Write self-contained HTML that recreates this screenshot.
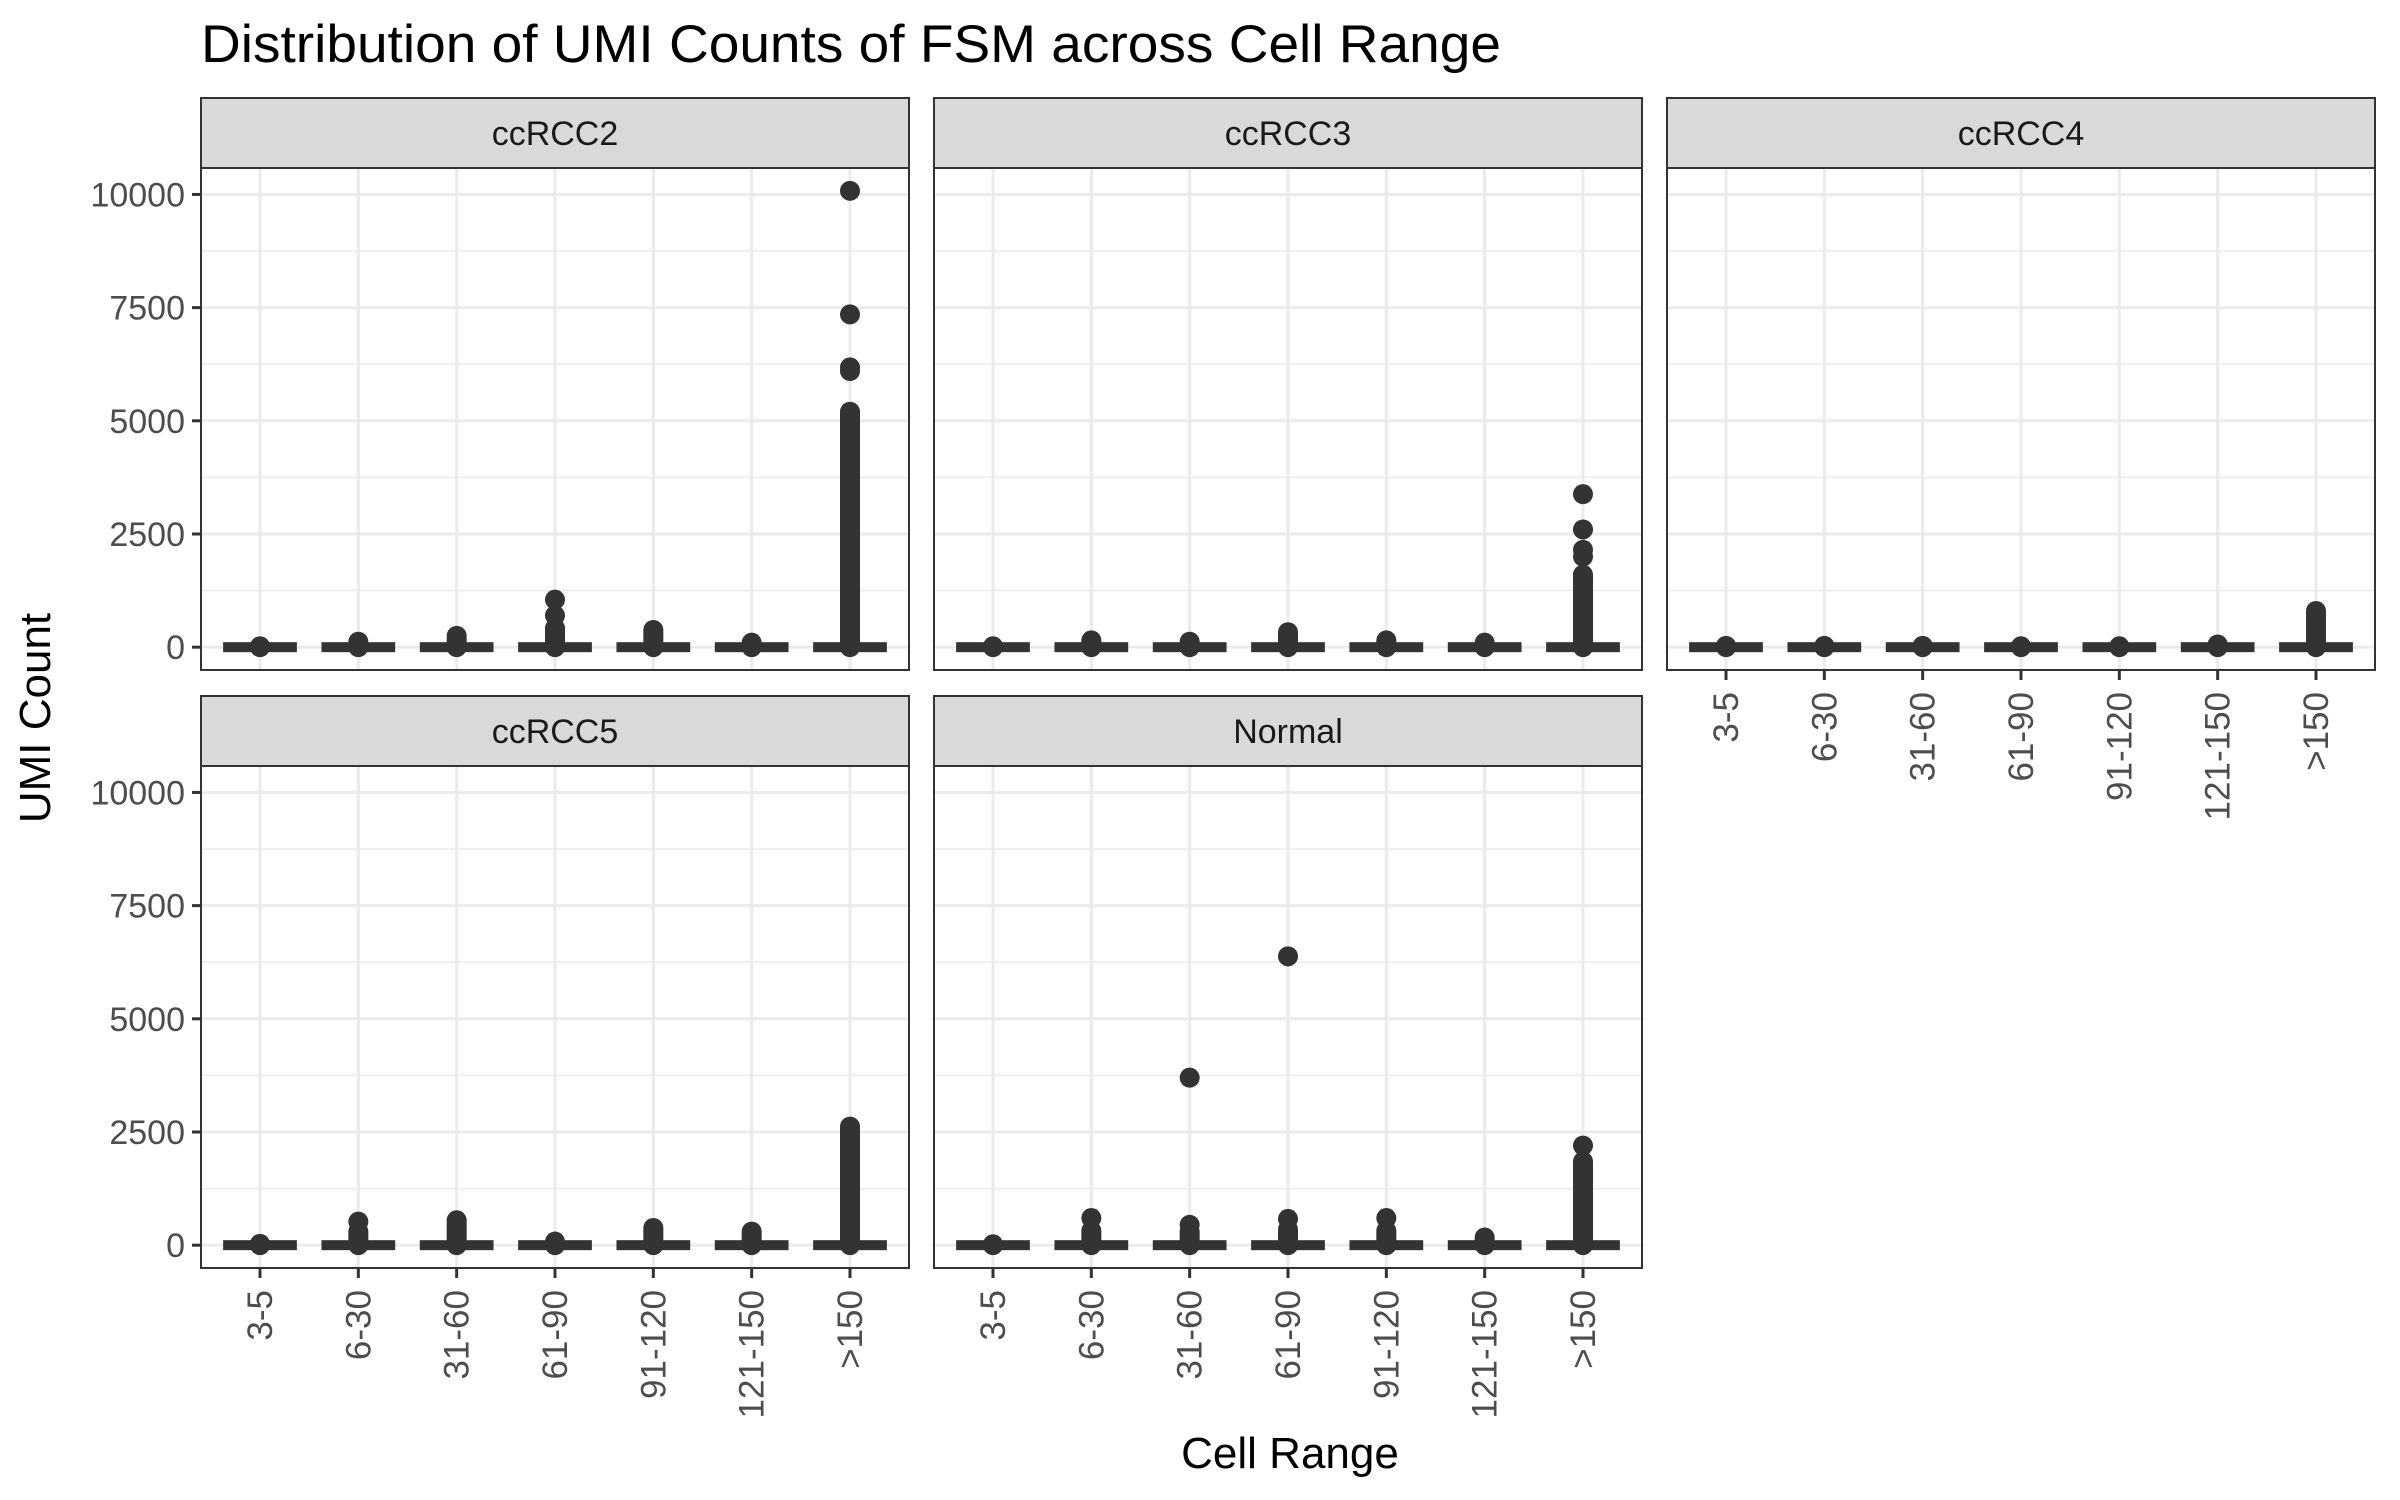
<!DOCTYPE html>
<html><head><meta charset="utf-8"><style>
html,body{margin:0;padding:0;background:#fff}
svg{display:block}
text{font-family:"Liberation Sans",sans-serif}
</style></head><body>
<svg id="chart" width="2400" height="1500" viewBox="0 0 2400 1500" xmlns="http://www.w3.org/2000/svg">
<rect width="2400" height="1500" fill="#fff"/>
<text x="201" y="62" font-size="53" fill="#000" textLength="1300" lengthAdjust="spacingAndGlyphs">Distribution of UMI Counts of FSM across Cell Range</text>
<text transform="translate(50,718) rotate(-90)" text-anchor="middle" font-size="44" fill="#000">UMI Count</text>
<text x="1290" y="1468" text-anchor="middle" font-size="44" fill="#000">Cell Range</text>
<g id="panels"></g>
</svg>
<script>
const categories = ["3-5","6-30","31-60","61-90","91-120","121-150",">150"];
const facets = ["ccRCC2","ccRCC3","ccRCC4","ccRCC5","Normal"];
const yTicks = [0,2500,5000,7500,10000];
const yMinor = [1250,3750,6250,8750];
// dense outlier column tops per facet (per category)
const denseCcRCC2 = [20,120,250,420,380,100,5200];
const denseCcRCC3 = [20,150,120,330,150,100,1600];
const denseCcRCC4 = [30,30,30,20,20,60,800];
const denseCcRCC5 = [30,300,550,80,380,300,2620];
const denseNormal = [20,320,300,350,320,170,1850];
// isolated outlier points per facet (per category)
const ptsCcRCC2 = [[],[],[],[700,1050],[],[],[6100,6180,7350,10080]];
const ptsCcRCC3 = [[],[],[],[],[],[],[2000,2150,2600,3380]];
const ptsCcRCC4 = [[],[],[],[],[],[],[]];
const ptsCcRCC5 = [[],[520],[],[],[],[],[]];
const ptsNormal = [[],[600],[450,3700],[580,6380],[600],[],[2200]];
const denseAll=[denseCcRCC2,denseCcRCC3,denseCcRCC4,denseCcRCC5,denseNormal];
const ptsAll=[ptsCcRCC2,ptsCcRCC3,ptsCcRCC4,ptsCcRCC5,ptsNormal];

const NS="http://www.w3.org/2000/svg";
const root=document.getElementById('panels');
function mk(tag,attrs,parent){const e=document.createElementNS(NS,tag);for(const k in attrs)e.setAttribute(k,attrs[k]);(parent||root).appendChild(e);return e;}
const colX=[201,934,1667], PW=708;
const rowY=[98,696], SH=70, PH=502;
const yMin=-504, yMax=10584;
facets.forEach((f,i)=>{
  const c=i%3, r=Math.floor(i/3);
  const x0=colX[c], top=rowY[r]+SH, bot=top+PH;
  const ys=v=>bot-(v-yMin)/(yMax-yMin)*PH;
  const step=PW/(categories.length-1+1.2);
  const xs=k=>x0+step*(k+0.6);
  const g=mk('g',{});
  
  
  mk('rect',{x:x0,y:top,width:PW,height:PH,fill:'#fff'},g);
  yMinor.forEach(v=>{const l=mk('line',{x1:x0,x2:x0+PW,y1:ys(v),y2:ys(v),stroke:'#ebebeb','stroke-width':1.6},g);
    });
  yTicks.forEach(v=>{const l=mk('line',{x1:x0,x2:x0+PW,y1:ys(v),y2:ys(v),stroke:'#ebebeb','stroke-width':3},g);
    });
  categories.forEach((cat,k)=>{const l=mk('line',{x1:xs(k),x2:xs(k),y1:top,y2:bot,stroke:'#ebebeb','stroke-width':3},g);
    });
  categories.forEach((cat,k)=>{
    const bg=mk('g',{},g);
    
    
    const d=denseAll[i][k];
    mk('line',{x1:xs(k),x2:xs(k),y1:ys(0),y2:ys(d),stroke:'#333','stroke-width':20,'stroke-linecap':'round'},bg);
    mk('rect',{x:xs(k)-step*0.375,y:ys(0)-5,width:step*0.75,height:10,fill:'#333'},bg);
    ptsAll[i][k].forEach(v=>{const p=mk('circle',{cx:xs(k),cy:ys(v),r:10,fill:'#333'},bg);
      });
  });
  mk('rect',{x:x0,y:top,width:PW,height:PH,fill:'none',stroke:'#333','stroke-width':2},g);
  const s=mk('rect',{x:x0,y:rowY[r],width:PW,height:SH,fill:'#d9d9d9',stroke:'#333','stroke-width':2},g);
  
  const st=mk('text',{x:x0+PW/2,y:rowY[r]+SH/2+12,'text-anchor':'middle','font-size':34,fill:'#1a1a1a'},g);
  st.textContent=f;
  
  if(c===0){
    yTicks.forEach(v=>{
      mk('line',{x1:x0-9,x2:x0,y1:ys(v),y2:ys(v),stroke:'#333','stroke-width':3},g);
      const t=mk('text',{x:x0-16,y:ys(v)+12,'text-anchor':'end','font-size':34,fill:'#4d4d4d'},g);
      t.textContent=v;
      
    });
  }
  const showX = r===1 || c===2;
  if(showX){
    categories.forEach((cat,k)=>{
      mk('line',{x1:xs(k),x2:xs(k),y1:bot,y2:bot+10,stroke:'#333','stroke-width':3},g);
      const t=mk('text',{transform:`translate(${xs(k)+12},${bot+22}) rotate(-90)`,'text-anchor':'end','font-size':35,fill:'#4d4d4d'},g);
      t.textContent=cat;
      
    });
  }
});
</script>
</body></html>
